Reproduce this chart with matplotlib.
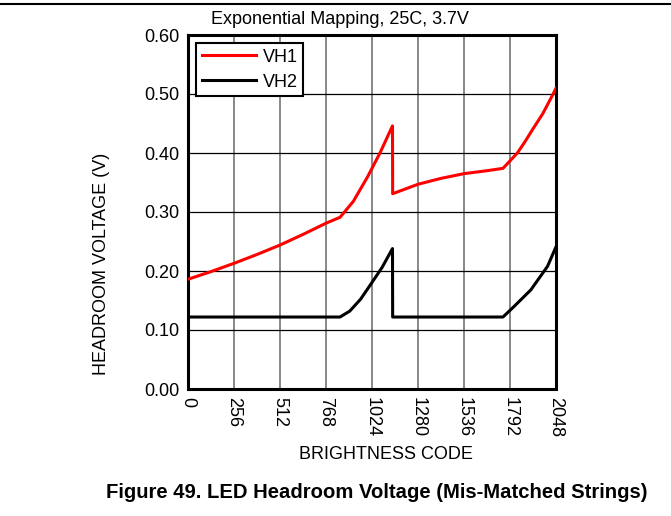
import matplotlib
matplotlib.use("Agg")
import matplotlib.pyplot as plt
from matplotlib.lines import Line2D

plt.rcParams['font.family'] = ['Liberation Sans', 'DejaVu Sans']

# Brightness code vs headroom voltage for the two LED strings
vh1_code = [0, 128, 256, 384, 512, 640, 768, 846,
            920, 1000, 1070, 1138, 1139,
            1280, 1408, 1536, 1664, 1753,
            1790, 1833, 1875, 1918, 1975, 2032, 2048]
vh1_volt = [0.186, 0.199, 0.213, 0.228, 0.244, 0.262, 0.281, 0.291,
            0.318, 0.360, 0.401, 0.446, 0.331,
            0.347, 0.357, 0.365, 0.370, 0.374,
            0.386, 0.400, 0.419, 0.440, 0.467, 0.500, 0.510]

vh2_code = [0, 846, 900, 960, 1016, 1080, 1138, 1139,
            1753, 1815, 1908, 2001, 2048]
vh2_volt = [0.122, 0.122, 0.132, 0.152, 0.177, 0.206, 0.238, 0.122,
            0.122, 0.140, 0.168, 0.208, 0.241]

x_ticks = [0, 256, 512, 768, 1024, 1280, 1536, 1792, 2048]
y_ticks = [0.0, 0.1, 0.2, 0.3, 0.4, 0.5, 0.6]

fig = plt.figure(figsize=(6.71, 5.16), dpi=100)
ax = fig.add_axes([188 / 671, 1 - 389 / 516, 368 / 671, 354 / 516])

ax.set_xlim(0, 2048)
ax.set_ylim(0, 0.6)
ax.set_xticks(x_ticks)
ax.set_yticks(y_ticks)
ax.set_xticklabels([str(v) for v in x_ticks], rotation=-90, fontsize=13)
ax.set_yticklabels([f"{v:.2f}" for v in y_ticks], fontsize=13)
ax.tick_params(length=0, pad=6)

for xv in x_ticks[1:-1]:
    ax.axvline(xv, color='#7f7f7f', lw=1.3, zorder=1)
for yv in y_ticks[1:-1]:
    ax.axhline(yv, color='black', lw=0.9, zorder=1)

ax.plot(vh1_code, vh1_volt, color='#ff0000', lw=2.2, zorder=3, label='VH1')
ax.plot(vh2_code, vh2_volt, color='black', lw=2.2, zorder=3, label='VH2')

for s in ax.spines.values():
    s.set_linewidth(2.2)

leg = ax.legend(loc='upper left', fontsize=13, frameon=True, fancybox=False,
                edgecolor='black', framealpha=1, borderpad=0.3,
                handlelength=3.0, handletextpad=0.4, labelspacing=0.45,
                borderaxespad=0.45)
leg.get_frame().set_linewidth(1.5)

ax.set_xlabel('BRIGHTNESS CODE', fontsize=13)
ax.xaxis.set_label_coords(0.538, -0.161)
ax.set_ylabel('HEADROOM VOLTAGE (V)', fontsize=13)
ax.yaxis.set_label_coords(-0.212, 0.353)

fig.text(340 / 671, 1 - 20 / 516, 'Exponential Mapping, 25C, 3.7V',
         ha='center', va='center', fontsize=13)
fig.text(377 / 671, 1 - 493 / 516,
         'Figure 49. LED Headroom Voltage (Mis-Matched Strings)',
         ha='center', va='center', fontsize=14.6, fontweight='bold')
fig.add_artist(Line2D([0, 1], [1 - 4 / 516, 1 - 4 / 516], color='black',
                      lw=1.5, transform=fig.transFigure))

fig.savefig('out.png', dpi=100)
